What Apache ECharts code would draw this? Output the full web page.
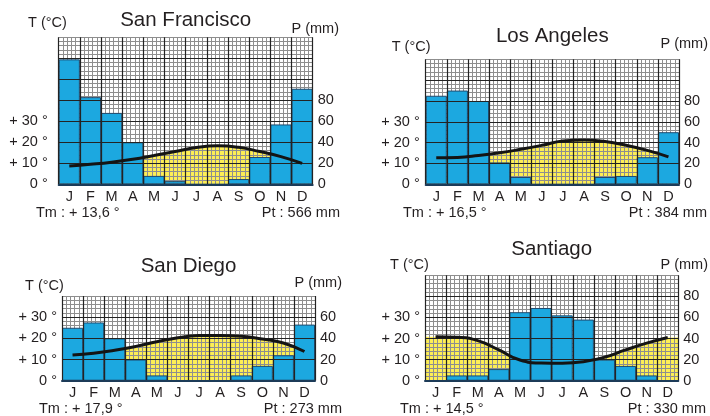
<!DOCTYPE html>
<html>
<head>
<meta charset="utf-8">
<script src="https://cdn.jsdelivr.net/npm/echarts@6/dist/echarts.min.js"></script>
<style>
  html, body { margin: 0; padding: 0; background: #ffffff; }
  #chart { width: 710px; height: 416px; }
</style>
</head>
<body>
<div id="chart"></div>
<script>
// Monthly climate data (precipitation in mm, mean temperature in °C)
const months = ['J', 'F', 'M', 'A', 'M', 'J', 'J', 'A', 'S', 'O', 'N', 'D'];
const cities = ['San Francisco', 'Los Angeles', 'San Diego', 'Santiago'];

const sfPrecip = [119, 83, 68, 40, 8, 3, 0, 0, 5, 26, 57, 91];
const sfTemp   = [8.7, 9.5, 10.5, 11.9, 13.7, 15.6, 17.5, 18.3, 17.6, 15.6, 13.2, 10.0];

const laPrecip = [85, 90, 80, 21, 7, 0, 0, 0, 7, 8, 26, 50];
const laTemp   = [12.7, 12.9, 13.8, 15.1, 16.8, 18.7, 20.8, 21.3, 20.5, 18.7, 16.3, 13.2];

const sdPrecip = [50, 55, 40, 20, 5, 0, 0, 0, 5, 14, 24, 53];
const sdTemp   = [12.1, 13.0, 14.4, 16.2, 18.4, 20.3, 21.3, 21.4, 21.0, 19.7, 17.8, 13.8];

const stPrecip = [0, 5, 5, 11, 65, 69, 62, 58, 20, 14, 5, 0];
const stTemp   = [20.8, 20.6, 19.0, 14.6, 9.8, 8.4, 8.3, 9.0, 11.1, 14.6, 17.8, 20.5];

const meanTemps = ['+ 13,6 °', '+ 16,5 °', '+ 17,9 °', '+ 14,5 °'];
const precipTotals = ['566 mm', '384 mm', '273 mm', '330 mm'];

// Axis tick labels
const tempTickLabels = ['0 °', '+ 10 °', '+ 20 °', '+ 30 °'];
const precipTickLabels = ['0', '20', '40', '60', '80'];

const precipSets = [sfPrecip, laPrecip, sdPrecip, stPrecip];
const tempSets = [sfTemp, laTemp, sdTemp, stTemp];

// Panel layout
const FONT = '"Liberation Sans", Arial, Helvetica, sans-serif';
const TEXT = '#231f20';
const FINE = '#8e8e8e';
const MAJOR = '#232323';
const panels = [
  { grid: { left: 58.7, top: 37.3, width: 254, height: 147 }, pMax: 140, tGap: 11,
    title: [185.7, 20.7], tName: [28, 23], pName: [339, 29], tm: [36, 213], pt: [340, 213] },
  { grid: { left: 425.7, top: 59.3, width: 253.3, height: 125 }, pMax: 120, tGap: 6,
    title: [552.3, 36.7], tName: [391.7, 46.7], pName: [708, 44], tm: [403, 213], pt: [707, 213] },
  { grid: { left: 62, top: 296, width: 253, height: 84.7 }, pMax: 80, tGap: 5,
    title: [188.5, 266.7], tName: [25, 286], pName: [342, 283.3], tm: [39, 409.3], pt: [342, 409.3] },
  { grid: { left: 425, top: 275.3, width: 253.3, height: 105.4 }, pMax: 100, tGap: 5,
    title: [551.7, 249], tName: [390, 265], pName: [708, 265], tm: [400, 409.3], pt: [706, 409.3] }
];

const grids = [], xAxes = [], yAxes = [], series = [], graphics = [];

panels.forEach((p, i) => {
  grids.push(Object.assign({ containLabel: false }, p.grid));
  const xb = xAxes.length, yb = yAxes.length;

  // month categories: labels, bottom line, major vertical grid
  xAxes.push({
    type: 'category', gridIndex: i, data: months, boundaryGap: true, z: 4,
    axisLine: { show: true, lineStyle: { color: '#1c3b58', width: 2 } },
    axisTick: { show: false },
    axisLabel: { margin: 5, fontFamily: FONT, fontSize: 14.5, color: TEXT },
    splitLine: { show: true, lineStyle: { color: MAJOR, width: 1.2 } }
  });
  // continuous month scale for the temperature curve
  xAxes.push({
    type: 'value', gridIndex: i, min: 0, max: 12, show: false
  });
  // fine vertical grid (5 per month)
  xAxes.push({
    type: 'value', gridIndex: i, min: 0, max: 60, interval: 1, z: 2,
    axisLine: { show: false }, axisTick: { show: false }, axisLabel: { show: false },
    splitLine: { show: true, lineStyle: { color: FINE, width: 1 } }
  });

  // precipitation axis (right) with major horizontal grid
  yAxes.push({
    type: 'value', gridIndex: i, position: 'right', min: 0, max: p.pMax, interval: 20, z: 4,
    axisLine: { show: false }, axisTick: { show: false },
    axisLabel: {
      margin: 5, fontFamily: FONT, fontSize: 14.5, color: TEXT, showMaxLabel: false,
      formatter: (v, idx) => precipTickLabels[idx] || ''
    },
    splitLine: { show: true, showMaxLine: false, lineStyle: { color: MAJOR, width: 1.2 } }
  });
  // temperature axis (left), 10 °C = 20 mm
  yAxes.push({
    type: 'value', gridIndex: i, position: 'left', min: 0, max: p.pMax / 2, interval: 10, z: 4,
    axisLine: { show: false }, axisTick: { show: false },
    axisLabel: {
      margin: p.tGap, fontFamily: FONT, fontSize: 14.5, color: TEXT,
      padding: [0, 0, 5, 0],
      formatter: (v, idx) => tempTickLabels[idx] || ''
    },
    splitLine: { show: false }
  });
  // fine horizontal grid (4 mm steps)
  yAxes.push({
    type: 'value', gridIndex: i, min: 0, max: p.pMax, interval: 4, z: 2,
    axisLine: { show: false }, axisTick: { show: false }, axisLabel: { show: false },
    splitLine: { show: true, lineStyle: { color: FINE, width: 1 } }
  });

  const temps = tempSets[i];
  const curve = temps.map((t, m) => [m + 0.5, t]);
  // dry season fill extends flat to the plot edges
  const fill = [[0, temps[0]]].concat(curve, [[12, temps[temps.length - 1]]]);

  series.push({
    type: 'line', xAxisIndex: xb + 1, yAxisIndex: yb + 1, data: fill, smooth: true,
    symbol: 'none', silent: true, z: 1,
    lineStyle: { width: 0 },
    areaStyle: { color: '#fdee55', opacity: 1 }
  });
  series.push({
    type: 'bar', xAxisIndex: xb, yAxisIndex: yb, data: precipSets[i],
    barCategoryGap: '0%', barGap: '0%', z: 3, silent: true,
    itemStyle: { color: '#1ca8e0', borderColor: '#1f4a6e', borderWidth: 1 }
  });
  series.push({
    type: 'line', xAxisIndex: xb + 1, yAxisIndex: yb + 1, data: curve, smooth: true,
    symbol: 'none', silent: true, z: 5,
    lineStyle: { color: '#141414', width: 3 }
  });

  const txt = (x, y, text, size, align) => ({
    type: 'text', x: x, y: y, silent: true, z: 10,
    style: { text: text, fontFamily: FONT, fontSize: size, fill: TEXT,
             textAlign: align, textVerticalAlign: 'middle' }
  });
  graphics.push(txt(p.title[0], p.title[1], cities[i], 20.5, 'center'));
  graphics.push(txt(p.tName[0], p.tName[1], 'T (°C)', 14.5, 'left'));
  graphics.push(txt(p.pName[0], p.pName[1], 'P (mm)', 14.5, 'right'));
  graphics.push(txt(p.tm[0], p.tm[1], 'Tm : ' + meanTemps[i], 14.5, 'left'));
  graphics.push(txt(p.pt[0], p.pt[1], 'Pt : ' + precipTotals[i], 14.5, 'right'));
});

const chart = echarts.init(document.getElementById('chart'), null, { renderer: 'canvas' });
chart.setOption({
  animation: false,
  backgroundColor: '#ffffff',
  grid: grids,
  xAxis: xAxes,
  yAxis: yAxes,
  series: series,
  graphic: graphics
});
</script>
</body>
</html>
